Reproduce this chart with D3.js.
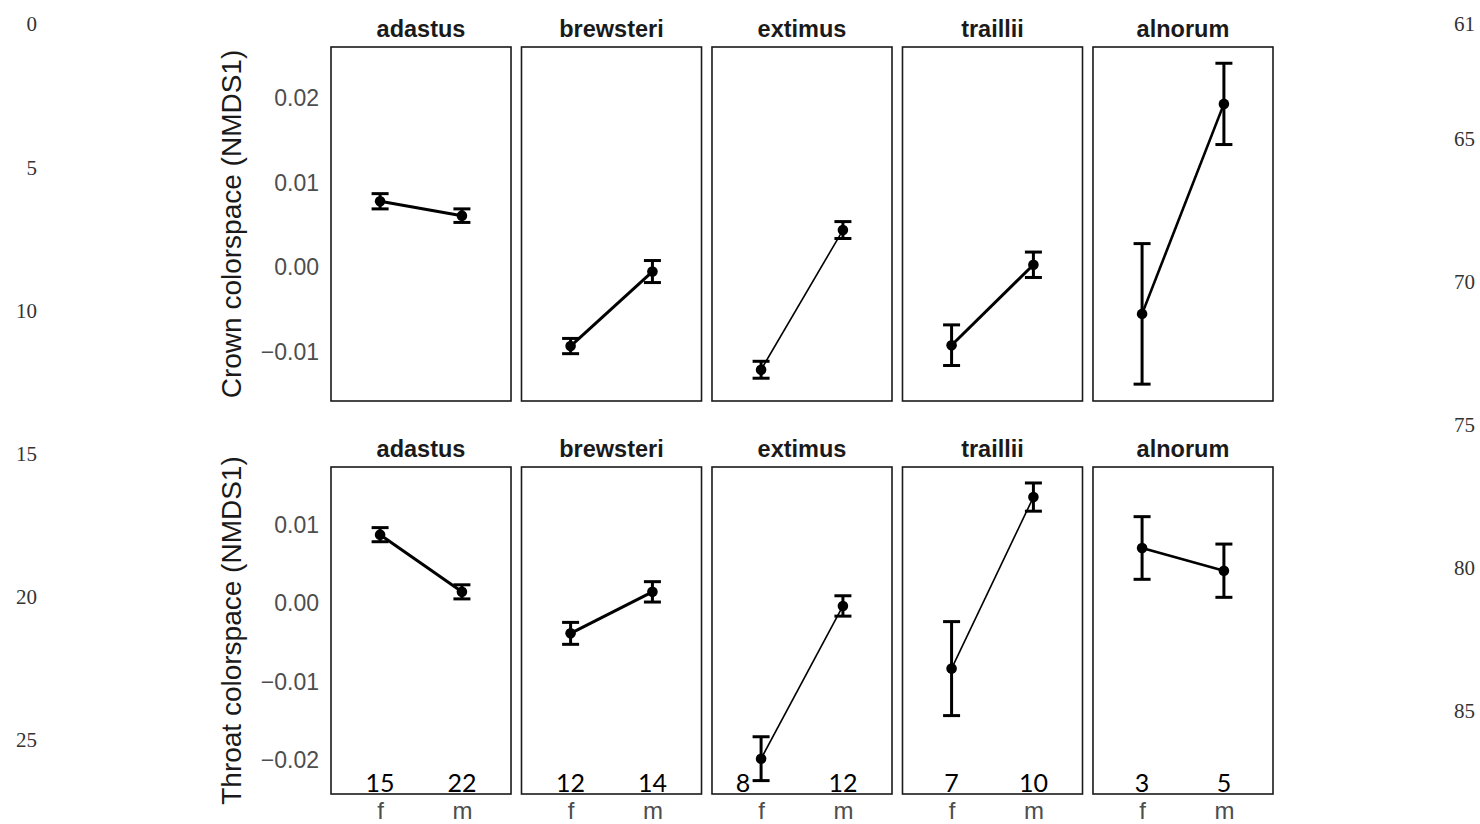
<!DOCTYPE html>
<html>
<head>
<meta charset="utf-8">
<script src="https://cdn.jsdelivr.net/npm/d3@7"></script>
<style>
  html, body { margin: 0; padding: 0; background: #fff; }
  svg { display: block; }
</style>
</head>
<body>
<svg id="chart" width="1480" height="824"></svg>
<script>
// Species panels and sexes
const species = ["adastus", "brewsteri", "extimus", "traillii", "alnorum"];
const sexes = ["f", "m"];

// Crown colorspace (NMDS1): mean and standard error, [f, m] per species
const crownMean = [[0.0078, 0.0061], [-0.0093, -0.0005], [-0.0121, 0.0044], [-0.0092, 0.0003], [-0.0055, 0.0193]];
const crownSE   = [[0.0009, 0.0008], [0.0009, 0.0013], [0.0010, 0.0010], [0.0024, 0.0015], [0.0083, 0.0048]];

// Throat colorspace (NMDS1): mean and standard error, [f, m] per species
const throatMean = [[0.0088, 0.0015], [-0.0038, 0.0015], [-0.0198, -0.0003], [-0.0083, 0.0136], [0.0071, 0.0042]];
const throatSE   = [[0.0009, 0.0009], [0.0014, 0.0013], [0.0028, 0.0013], [0.0060, 0.0018], [0.0040, 0.0034]];

// Sample sizes, [f, m] per species
const sampleSizes = [[15, 22], [12, 14], [8, 12], [7, 10], [3, 5]];

// Axis ticks
const crownTicks = [-0.01, 0.00, 0.01, 0.02];
const throatTicks = [-0.02, -0.01, 0.00, 0.01];

// Manuscript line numbers in the margins
const leftLineNumbers = [0, 5, 10, 15, 20, 25];
const rightLineNumbers = [61, 65, 70, 75, 80, 85];

// ---- drawing ----
const svg = d3.select("#chart");
const axisFont = "'Liberation Sans', Arial, sans-serif";
const tickColor = "#4d4d4d";

const panelX = d3.scaleBand().domain(species).range([331, 1273]).paddingInner(0.055);
const pw = panelX.bandwidth();
const sexX = d3.scalePoint().domain(sexes).range([0, pw]).padding(0.6);

// connecting-line weights per panel
const connectorWidth = {
  crown: [3, 3, 1.6, 3, 2.6],
  throat: [3, 3, 1.6, 1.6, 2.6]
};

const rows = [
  { key: "crown", title: "Crown colorspace (NMDS1)", mean: crownMean, se: crownSE, ticks: crownTicks,
    y: d3.scaleLinear().domain([-0.01579, 0.02602]).range([401, 47]), showX: false },
  { key: "throat", title: "Throat colorspace (NMDS1)", mean: throatMean, se: throatSE, ticks: throatTicks,
    y: d3.scaleLinear().domain([-0.02431, 0.01744]).range([794, 467]), showX: true }
];

rows.forEach(row => {
  const [yBottom, yTop] = row.y.range();

  // y axis (labels only)
  const yAxis = svg.append("g")
    .attr("transform", `translate(${panelX(species[0])},0)`)
    .call(d3.axisLeft(row.y).tickValues(row.ticks).tickFormat(d3.format(".2f")).tickSize(0).tickPadding(12));
  yAxis.select(".domain").remove();
  yAxis.selectAll("text")
    .attr("font-family", axisFont).attr("font-size", 23).attr("fill", tickColor)
    .text(d => d3.format(".2f")(d).replace("-", "\u2212"));

  // y axis title
  svg.append("text")
    .attr("transform", `translate(241,${(yTop + yBottom) / 2}) rotate(-90)`)
    .attr("text-anchor", "middle")
    .attr("font-family", axisFont).attr("font-size", 28).attr("fill", "#1a1a1a")
    .text(row.title);

  species.forEach((sp, i) => {
    const g = svg.append("g").attr("transform", `translate(${panelX(sp)},0)`);

    // strip title
    g.append("text")
      .attr("x", pw / 2).attr("y", yTop - 10)
      .attr("text-anchor", "middle")
      .attr("font-family", axisFont).attr("font-weight", "bold").attr("font-size", 23.5).attr("fill", "#1a1a1a")
      .text(sp);

    // panel frame
    g.append("rect")
      .attr("x", 0).attr("y", yTop).attr("width", pw).attr("height", yBottom - yTop)
      .attr("fill", "none").attr("stroke", "#1a1a1a").attr("stroke-width", 1.6);

    const pts = sexes.map((s, j) => ({ sex: s, m: row.mean[i][j], se: row.se[i][j] }));

    // connecting line
    g.append("path")
      .datum(pts)
      .attr("d", d3.line().x(d => sexX(d.sex)).y(d => row.y(d.m)))
      .attr("fill", "none").attr("stroke", "#000").attr("stroke-width", connectorWidth[row.key][i]);

    // error bars
    const eb = g.selectAll(".eb").data(pts).enter().append("g");
    eb.append("line")
      .attr("x1", d => sexX(d.sex)).attr("x2", d => sexX(d.sex))
      .attr("y1", d => row.y(d.m - d.se)).attr("y2", d => row.y(d.m + d.se))
      .attr("stroke", "#000").attr("stroke-width", 3);
    [-1, 1].forEach(sgn => {
      eb.append("line")
        .attr("x1", d => sexX(d.sex) - 8.5).attr("x2", d => sexX(d.sex) + 8.5)
        .attr("y1", d => row.y(d.m + sgn * d.se)).attr("y2", d => row.y(d.m + sgn * d.se))
        .attr("stroke", "#000").attr("stroke-width", 3);
    });

    // means
    g.selectAll(".pt").data(pts).enter().append("circle")
      .attr("cx", d => sexX(d.sex)).attr("cy", d => row.y(d.m)).attr("r", 5.3)
      .attr("fill", "#000");

    if (row.showX) {
      // x axis labels
      const xAxis = g.append("g")
        .attr("transform", `translate(0,${yBottom})`)
        .call(d3.axisBottom(sexX).tickSize(0).tickPadding(8));
      xAxis.select(".domain").remove();
      xAxis.selectAll("text")
        .attr("font-family", axisFont).attr("font-size", 24).attr("fill", tickColor);

      // sample sizes inside the bottom of the panel
      g.selectAll(".n").data(sexes).enter().append("text")
        .attr("x", (s, j) => sexX(s) + (sp === "extimus" && j === 0 ? -18 : 0))
        .attr("y", yBottom - 2)
        .attr("text-anchor", "middle")
        .attr("font-family", "Lato, 'Open Sans', sans-serif").attr("font-size", 25).attr("fill", "#000")
        .text((s, j) => sampleSizes[i][j]);
    }
  });
});

// margin line numbers
const lineNumFont = "'Liberation Serif', 'DejaVu Serif', serif";
const leftY = d3.scaleLinear().domain([0, 25]).range([24, 740]);
svg.selectAll(".lnL").data(leftLineNumbers).enter().append("text")
  .attr("x", 37).attr("y", d => leftY(d)).attr("dy", "0.35em")
  .attr("text-anchor", "end").attr("font-family", lineNumFont).attr("font-size", 21).attr("fill", "#333")
  .text(d => d);
const rightY = d3.scaleLinear().domain([61, 85]).range([24, 711]);
svg.selectAll(".lnR").data(rightLineNumbers).enter().append("text")
  .attr("x", 1475).attr("y", d => rightY(d)).attr("dy", "0.35em")
  .attr("text-anchor", "end").attr("font-family", lineNumFont).attr("font-size", 21).attr("fill", "#333")
  .text(d => d);
</script>
</body>
</html>
